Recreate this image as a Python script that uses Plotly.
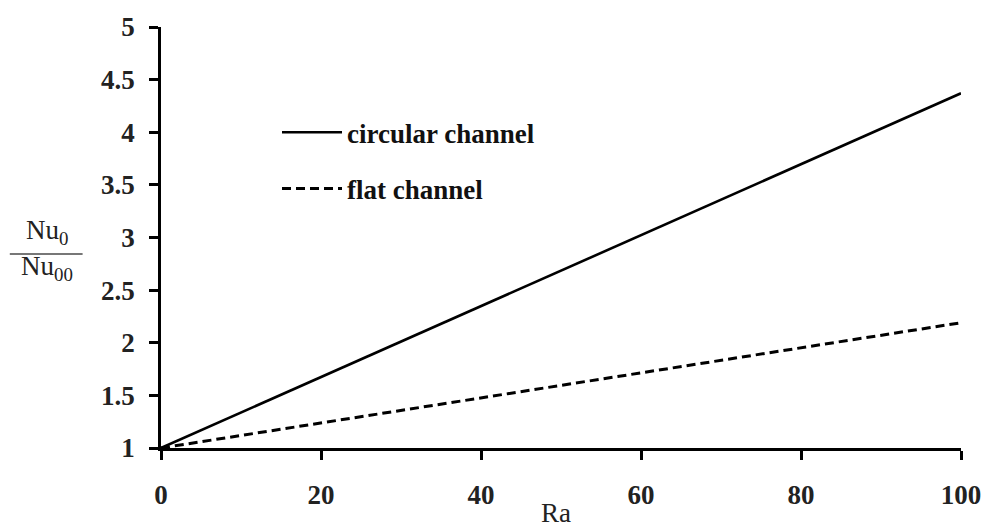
import plotly.graph_objects as go

# Rayleigh number and normalised Nusselt number for the two channel shapes
ra = [0, 100]
nu_circular = [1.0, 4.37]
nu_flat = [1.0, 2.19]

x_ticks = [0, 20, 40, 60, 80, 100]
y_ticks = [1, 1.5, 2, 2.5, 3, 3.5, 4, 4.5, 5]
y_tick_text = ["1", "1.5", "2", "2.5", "3", "3.5", "4", "4.5", "5"]

SERIF = "Liberation Serif, Times New Roman, serif"

fig = go.Figure()
fig.add_trace(go.Scatter(
    x=ra, y=nu_circular, mode="lines", name="circular channel",
    legendgroup="a",
    line=dict(color="black", width=2.6),
))
fig.add_trace(go.Scatter(
    x=ra, y=nu_flat, mode="lines", name="flat channel",
    legendgroup="b",
    line=dict(color="black", width=3, dash="9px,5px"),
))

tick_font = dict(family=SERIF, size=27, color="#222", weight="bold")

axis_common = dict(
    showgrid=False, zeroline=False,
    showline=True, linecolor="black", linewidth=2.5,
    ticks="outside", tickcolor="black", tickwidth=2.5, ticklen=9,
)

fig.update_layout(
    width=994, height=530,
    margin=dict(l=161, r=33, t=16, b=82),
    paper_bgcolor="white", plot_bgcolor="white",
    xaxis=dict(range=[0, 100], tickvals=x_ticks, ticklabelstandoff=12,
               tickfont=tick_font, **axis_common),
    yaxis=dict(range=[1, 5], tickvals=y_ticks, ticktext=y_tick_text,
               ticklabelstandoff=9, tickfont=tick_font, **axis_common),
    showlegend=True,
    legend=dict(
        x=0.145, y=0.807, xanchor="left", yanchor="top",
        bgcolor="rgba(0,0,0,0)", borderwidth=0,
        traceorder="grouped", tracegroupgap=18,
        font=dict(family=SERIF, size=27, color="#111", weight="bold"),
        itemwidth=60,
    ),
)

# x-axis title
fig.add_annotation(
    text="Ra", xref="paper", yref="paper", x=0.494, y=-0.155,
    xanchor="center", yanchor="middle", showarrow=False,
    font=dict(family=SERIF, size=27, color="#222"),
)

# y-axis title drawn as a fraction Nu0 / Nu00
fig.add_annotation(
    text="Nu<sub>0</sub>", xref="paper", yref="paper",
    x=-0.1425, y=0.512, xanchor="center", yanchor="middle", showarrow=False,
    font=dict(family=SERIF, size=27, color="#222"),
)
fig.add_annotation(
    text="Nu<sub>00</sub>", xref="paper", yref="paper",
    x=-0.1425, y=0.428, xanchor="center", yanchor="middle", showarrow=False,
    font=dict(family=SERIF, size=27, color="#222"),
)
fig.add_shape(
    type="line", xref="paper", yref="paper",
    x0=-0.189, x1=-0.098, y0=0.461, y1=0.461,
    line=dict(color="#777", width=2),
)

fig.write_html("out.html")
